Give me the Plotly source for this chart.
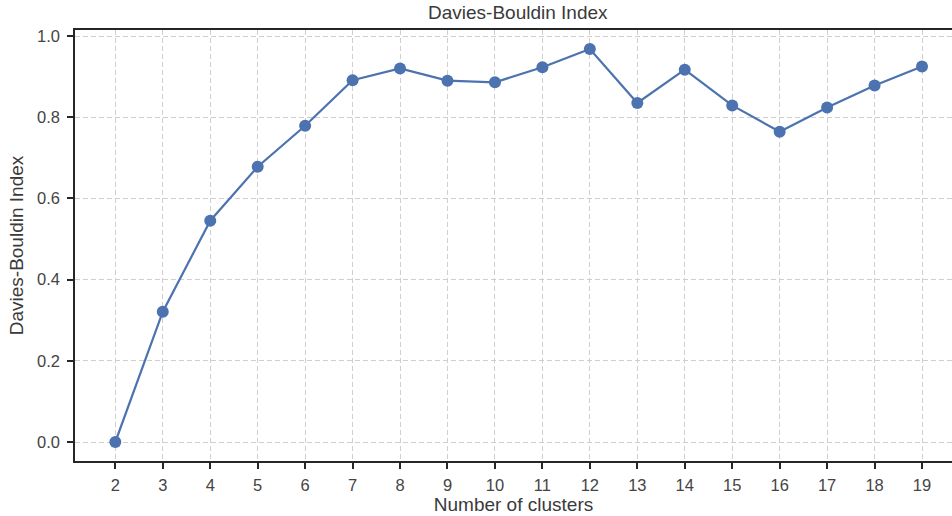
import plotly.graph_objects as go

clusters = list(range(2, 20))
db_index = [0.0, 0.321, 0.545, 0.678, 0.779, 0.891, 0.920, 0.890, 0.886, 0.923,
            0.968, 0.835, 0.917, 0.829, 0.764, 0.824, 0.878, 0.925]
y_ticks = [0.0, 0.2, 0.4, 0.6, 0.8, 1.0]

W, H = 952, 516
L, R, T, B = 75, 0, 30, 55

fig = go.Figure()
fig.add_trace(go.Scatter(
    x=clusters, y=db_index, mode="lines+markers",
    line=dict(color="#4c72b0", width=2.2),
    marker=dict(color="#4c72b0", size=12),
    showlegend=False,
))

font = dict(family="Liberation Sans, Arial, sans-serif", color="#262626")
fig.update_layout(
    width=W, height=H,
    margin=dict(l=L, r=R, t=T, b=B, pad=0),
    paper_bgcolor="white", plot_bgcolor="white",
    font=font,
    xaxis=dict(
        range=[1.15, 19.632], tickmode="array", tickvals=clusters,
        ticktext=[str(c) for c in clusters],
        showline=True, linecolor="#262626", linewidth=1.5, mirror=True,
        ticks="outside", ticklen=6, tickwidth=1.5, tickcolor="#262626",
        tickfont=dict(size=16.5, color="#444444"), ticklabelstandoff=2,
        showgrid=True, gridcolor="#cfcfcf", gridwidth=1, griddash="5px,3px",
        zeroline=False,
        title=dict(text="Number of clusters", font=dict(size=19, color="#3a3a3a"), standoff=3),
    ),
    yaxis=dict(
        range=[-0.0468, 1.0148], tickmode="array", tickvals=y_ticks,
        ticktext=[f"{v:.1f}" for v in y_ticks],
        showline=True, linecolor="#262626", linewidth=1.5, mirror=False,
        ticks="outside", ticklen=6, tickwidth=1.5, tickcolor="#262626",
        tickfont=dict(size=16.5, color="#444444"), ticklabelstandoff=4,
        showgrid=True, gridcolor="#cfcfcf", gridwidth=1, griddash="5px,3px",
        zeroline=False,
        title=dict(text="Davies-Bouldin Index", font=dict(size=19, color="#3a3a3a"), standoff=8),
    ),
    annotations=[dict(
        text="Davies-Bouldin Index", xref="paper", yref="paper",
        x=(518 - L) / (W - L - R), y=1, yshift=5, xanchor="center", yanchor="bottom",
        showarrow=False, font=dict(size=19, color="#3a3a3a"),
    )],
)

fig.write_html("out.html")
